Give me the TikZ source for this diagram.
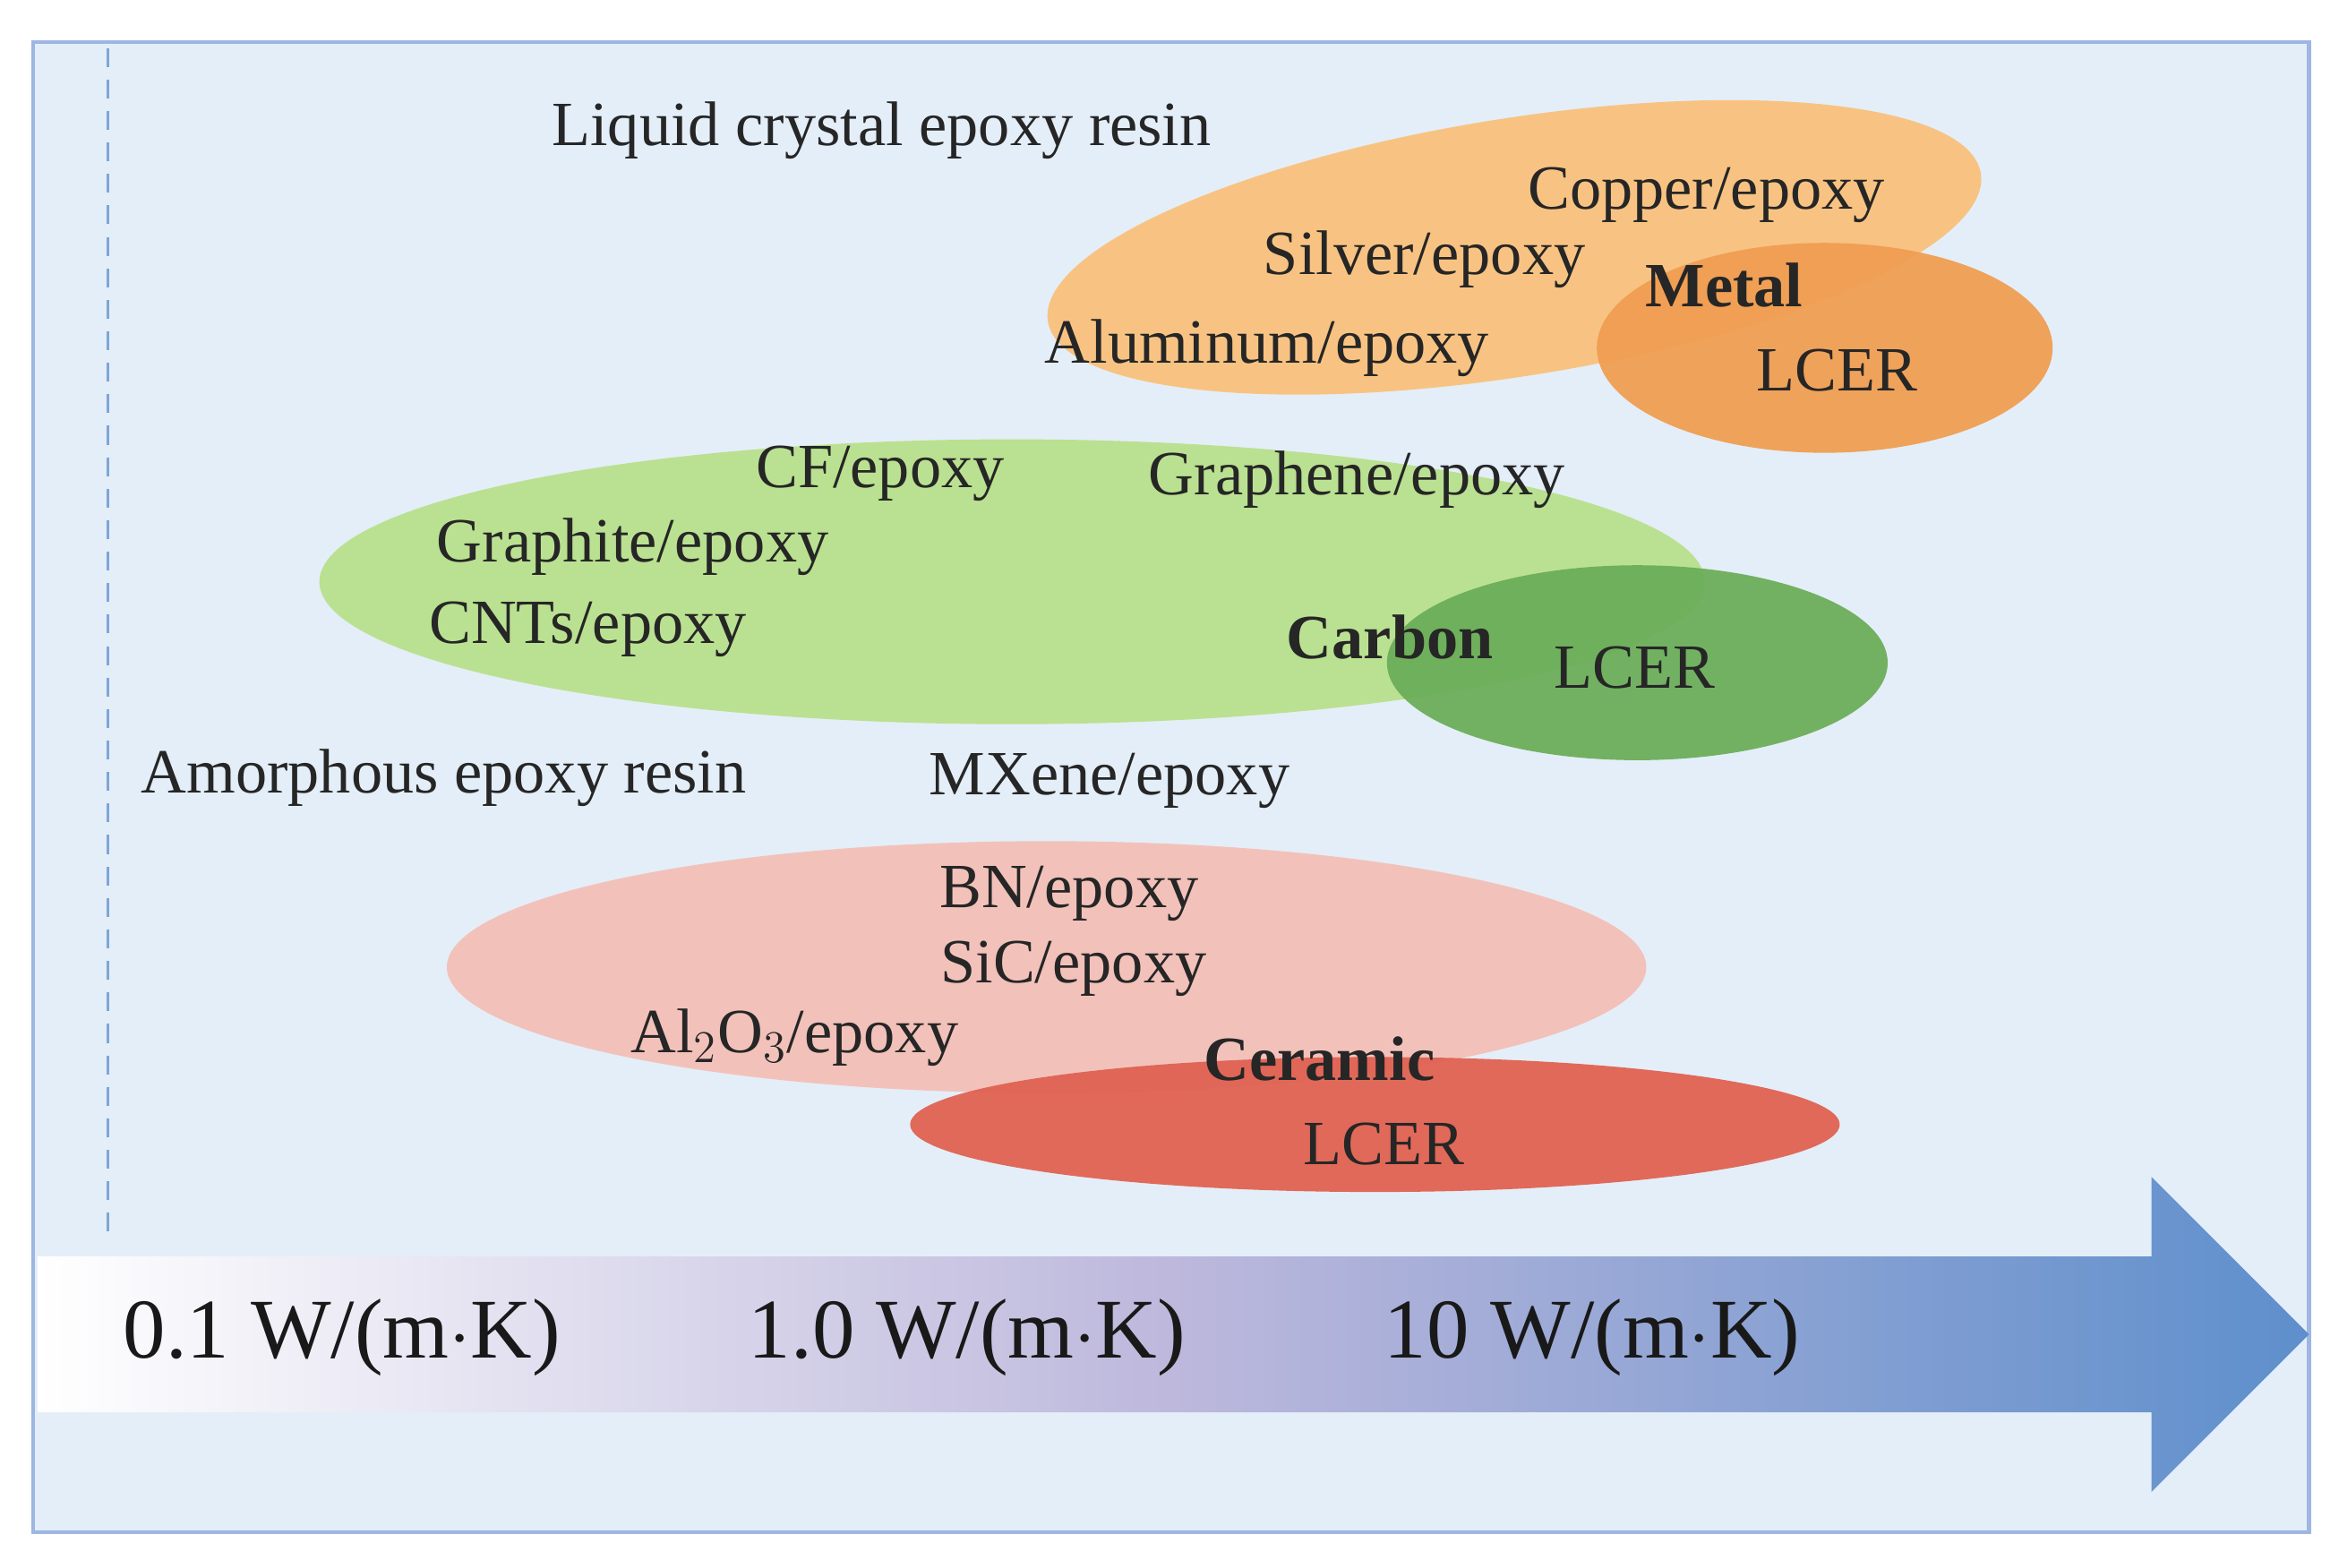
\documentclass[tikz,border=0pt]{standalone}
\usepackage{fontspec}
\setmainfont{Liberation Serif}
\begin{document}
\begin{tikzpicture}[x=0.016744cm,y=-0.016744cm,
  lab/.style={font=\fontsize{20}{23}\selectfont, text=black!85, inner sep=0pt},
  blab/.style={lab, font=\fontsize{20}{23}\selectfont\bfseries},
  big/.style={font=\fontsize{27}{32}\selectfont, text=black!90, inner sep=0pt}]
\definecolor{bg}{HTML}{E4EEF8}
\definecolor{frame}{HTML}{9DB6E2}
\definecolor{arr}{HTML}{5E8FCC}
\definecolor{mid}{HTML}{BDB8DC}
\useasboundingbox (0,0) rectangle (1560,1045.2);
\fill[white] (0,0) rectangle (1560,1045.2);
\draw[frame, line width=1.2pt, fill=bg] (22,28) rectangle (1540,1022);
\draw[arr!80!white, dash pattern=on 6pt off 4pt, line width=1pt] (72,32) -- (72,828);
% arrow
\shade[left color=white, right color=arr, middle color=mid]
  (25,838) -- (1435,838) -- (1435,785) -- (1540,890) -- (1435,995) -- (1435,942) -- (25,942) -- cycle;
\node[big] (t1) at (228,892) {0.1 W/(m$\cdot$K)};
\node[big] (t2) at (645,892) {1.0 W/(m$\cdot$K)};
\node[big] (t3) at (1062,892) {10 W/(m$\cdot$K)};
% ellipses
\fill[color={rgb,255:red,248;green,195;blue,130}] (1010,165) ellipse[x radius=315, y radius=86, rotate=9];
\fill[color={rgb,255:red,240;green,158;blue,82}, opacity=0.95] (1217,232) ellipse[x radius=152, y radius=70];
\fill[color={rgb,255:red,186;green,225;blue,145}] (675,388) ellipse[x radius=462, y radius=95];
\fill[color={rgb,255:red,108;green,174;blue,90}, opacity=0.95] (1092,442) ellipse[x radius=167, y radius=65];
\fill[color={rgb,255:red,242;green,194;blue,186}] (698,645) ellipse[x radius=400, y radius=84];
\fill[color={rgb,255:red,224;green,98;blue,82}, opacity=0.95] (917,750) ellipse[x radius=310, y radius=45];
% labels
\node[lab] (lc) at (588,87) {Liquid crystal epoxy resin};
\node[lab] (cu) at (1138,130) {Copper/epoxy};
\node[lab] (ag) at (950,173) {Silver/epoxy};
\node[blab] (me) at (1150,190) {Metal};
\node[lab] (al) at (845,232) {Aluminum/epoxy};
\node[lab] (l1) at (1225,247) {LCER};
\node[lab] (cf) at (587,316) {CF/epoxy};
\node[lab] (gr) at (905,320) {Graphene/epoxy};
\node[lab] (gp) at (422,365) {Graphite/epoxy};
\node[lab] (cn) at (392,420) {CNTs/epoxy};
\node[blab] (ca) at (927,425) {Carbon};
\node[lab] (l2) at (1090,445) {LCER};
\node[lab] (am) at (296,519) {Amorphous epoxy resin};
\node[lab] (mx) at (740,521) {MXene/epoxy};
\node[lab] (bn) at (713,596) {BN/epoxy};
\node[lab] (si) at (716,646) {SiC/epoxy};
\node[lab] (ao) at (530,692) {Al$_2$O$_3$/epoxy};
\node[blab] (ce) at (880,706) {Ceramic};
\node[lab] (l3) at (923,763) {LCER};
\end{tikzpicture}
\end{document}
